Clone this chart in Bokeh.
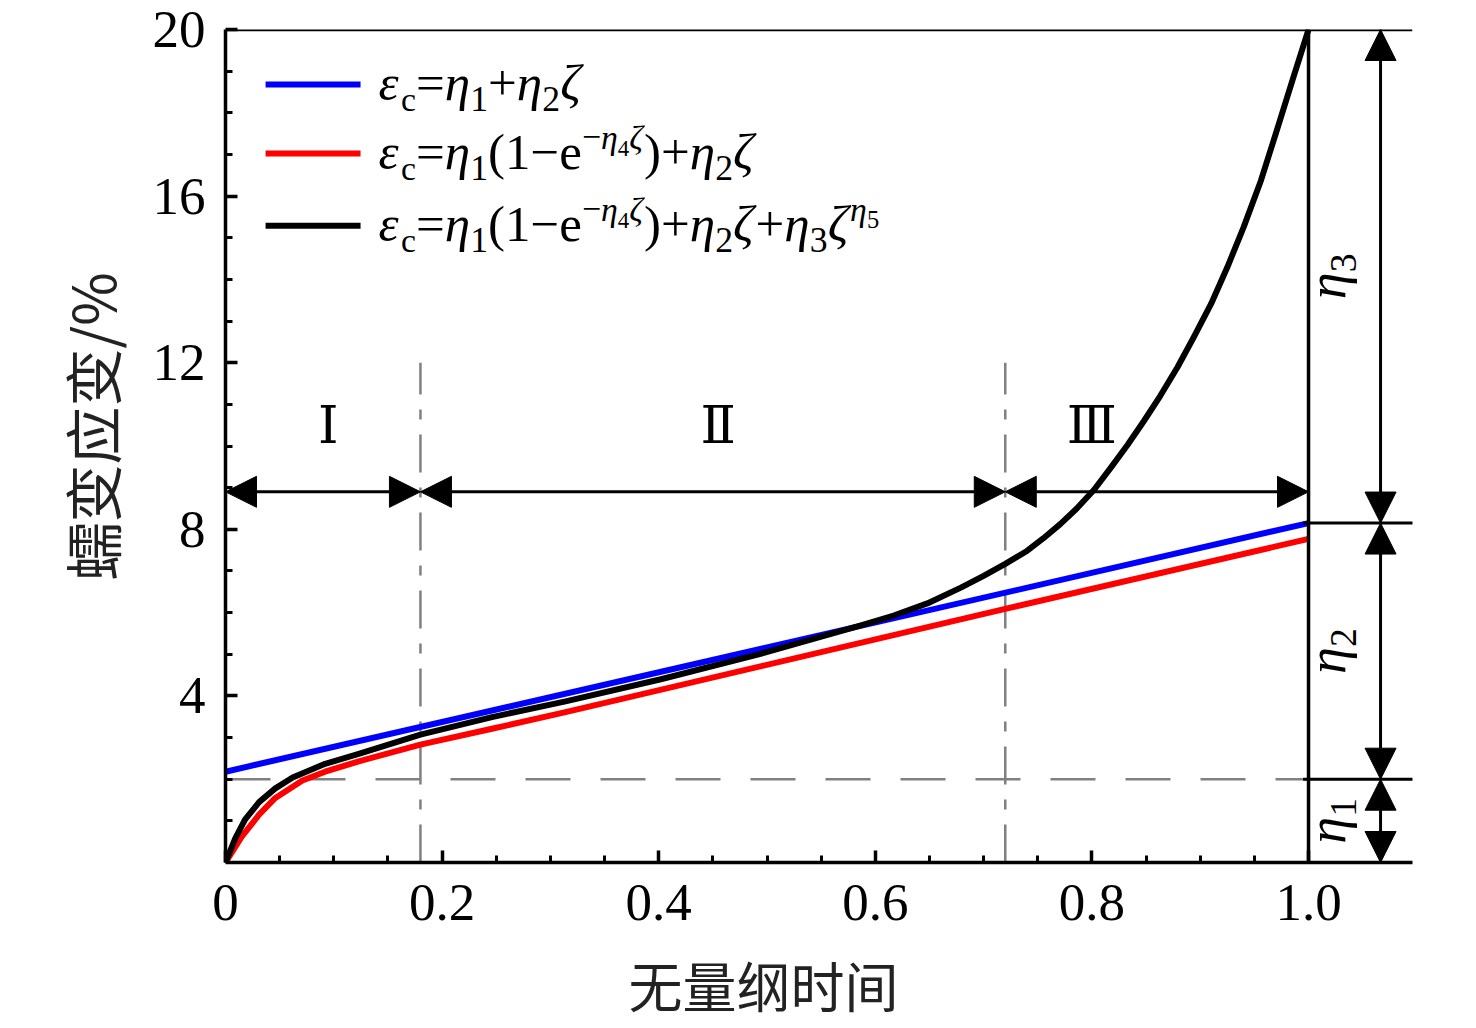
from bokeh.core.properties import value
from bokeh.embed import file_html
from bokeh.models import Arrow, FixedTicker, NormalHead, Range1d, Span, Title
from bokeh.plotting import figure
from bokeh.resources import INLINE

# ---- data ----
zeta_blue = [0.0, 1.0]
strain_blue = [2.18, 8.15]

zeta_red = [0.0, 0.015, 0.031, 0.046, 0.071, 0.092, 0.123, 0.18, 0.246, 0.314, 0.72, 1.0]
strain_red = [0.0, 0.62, 1.15, 1.55, 1.97, 2.18, 2.43, 2.83, 3.21, 3.61, 6.09, 7.77]

zeta_black = [0.0, 0.009, 0.018, 0.031, 0.046, 0.062, 0.092, 0.123, 0.18, 0.246,
              0.314, 0.402, 0.494, 0.586, 0.617, 0.648, 0.679, 0.70, 0.72, 0.74,
              0.755, 0.771, 0.786, 0.802, 0.818, 0.833, 0.848, 0.863, 0.879, 0.894,
              0.91, 0.925, 0.94, 0.956, 0.971, 0.986, 1.0]
strain_black = [0.0, 0.58, 1.03, 1.45, 1.78, 2.04, 2.37, 2.61, 3.07, 3.49,
                3.87, 4.40, 5.01, 5.69, 5.93, 6.22, 6.60, 6.88, 7.17, 7.48,
                7.78, 8.13, 8.50, 8.95, 9.50, 10.03, 10.60, 11.20, 11.89, 12.61,
                13.41, 14.29, 15.25, 16.37, 17.60, 18.85, 20.0]

stage_bounds = [0.0, 0.18, 0.72, 1.0]      # stage I / II / III limits
stage_names = ["Ⅰ", "Ⅱ", "Ⅲ"]
stage_label_x = [0.095, 0.455, 0.80]
eta_levels = [0.0, 2.0, 8.15, 20.0]        # 0, eta1, eta1+eta2, top
eta_names = ["1", "2", "3"]

x_ticks = [0.0, 0.2, 0.4, 0.6, 0.8, 1.0]
x_tick_labels = ["0", "0.2", "0.4", "0.6", "0.8", "1.0"]
y_ticks = [4, 8, 12, 16, 20]
y_tick_labels = ["4", "8", "12", "16", "20"]

SERIF = "Liberation Serif"
CJK = "Noto Sans CJK SC"
X_END = 1.096

p = figure(frame_width=1187, frame_height=833, x_range=Range1d(0, X_END), y_range=Range1d(0, 20),
           output_backend="svg", toolbar_location=None,
           min_border_left=225, min_border_top=29, min_border_right=40, min_border_bottom=120)
p.outline_line_color = None
p.grid.visible = False

# axes
p.xaxis.ticker = FixedTicker(ticks=x_ticks, minor_ticks=[0.05 * i for i in range(1, 20) if i % 4])
p.xaxis.major_label_overrides = dict(zip(x_ticks, x_tick_labels))
p.yaxis.ticker = FixedTicker(ticks=y_ticks, minor_ticks=[v for v in range(1, 20) if v % 4])
p.yaxis.major_label_overrides = dict(zip(y_ticks, y_tick_labels))
for ax in (p.xaxis[0], p.yaxis[0]):
    ax.axis_line_width = 3.5
    ax.axis_line_color = "black"
    ax.major_tick_line_width = 3.5
    ax.minor_tick_line_width = 3
    ax.major_tick_in = 12
    ax.major_tick_out = 0
    ax.minor_tick_in = 7
    ax.minor_tick_out = 0
    ax.major_label_text_font = SERIF
    ax.major_label_text_font_size = "53px"
    ax.major_label_text_color = "black"
p.xaxis.major_label_standoff = 22
p.yaxis.major_label_standoff = 20

# axis titles (placed as titles so they can be shifted like in the original)
p.add_layout(Title(text="无量纲时间", align="left", offset=403, standoff=40,
                   text_font=CJK, text_font_size="54px", text_font_style="normal",
                   text_color="#222222"), "below")
p.add_layout(Title(text="蠕变应变/%", align="left", offset=282, standoff=33,
                   text_font=CJK, text_font_size="58px", text_font_style="normal",
                   text_color="#222222"), "left")

# frame: top line across, right border at zeta = 1
p.add_layout(Span(location=20, dimension="width", line_color="black", line_width=3.5))
p.add_layout(Span(location=1.0, dimension="height", line_color="black", line_width=3.5))

# reference guides
p.line([0, 1.0], [eta_levels[1], eta_levels[1]], line_color="#808080", line_width=2.5, line_dash="45 30")
for b in stage_bounds[1:3]:
    p.line([b, b], [0, 12], line_color="#808080", line_width=2.5, line_dash="38 15 10 15")

# curves
p.line(zeta_red, strain_red, line_color="#ff0000", line_width=6, line_join="round")
p.line(zeta_blue, strain_blue, line_color="#0000ff", line_width=6)
p.line(zeta_black, strain_black, line_color="black", line_width=6, line_join="round")


def head():
    return NormalHead(size=31, fill_color="black", line_color="black", line_width=1)


# stage arrows
for a, b in zip(stage_bounds[:-1], stage_bounds[1:]):
    p.add_layout(Arrow(x_start=a, y_start=8.9, x_end=b, y_end=8.9, start=head(), end=head(),
                       line_color="black", line_width=3))
p.text(x=stage_label_x, y=[10.5] * 3, text=stage_names, text_font=value("DejaVu Serif"),
       text_font_size="52px", text_align="center", text_baseline="middle", text_color="black")

# eta dimension arrows on the right
ARX = 1.0665
for lo, hi in zip(eta_levels[:-1], eta_levels[1:]):
    p.add_layout(Arrow(x_start=ARX, y_start=hi, x_end=ARX, y_end=lo, start=head(), end=head(),
                       line_color="black", line_width=3))
for lvl in eta_levels[1:3]:
    p.line([0.995, X_END + 0.01], [lvl, lvl], line_color="black", line_width=3)

# ---- rich text (sub/superscripts) ----
W = {"ε": 0.44, "η": 0.50, "ζ": 0.44, "c": 0.444, "e": 0.444, "=": 0.564, "+": 0.564,
     "−": 0.564, "(": 0.333, ")": 0.333}
BASE_FIX = 0.36   # empirical shift of the text baseline, in em


def run_width(s, fs):
    return sum(W.get(ch, 0.5) for ch in s) * fs


def rich(x, y, runs, size, rotated=False, center=False, base=0.0):
    total = sum(run_width(t, size * sc) for t, it, sc, r in runs)
    pos = -total / 2 if center else 0.0
    for t, italic, sc, rise in runs:
        fs = size * sc
        drop = base - rise * size - BASE_FIX * fs
        if rotated:
            xo, yo, ang = drop, -pos, 1.5707963
        else:
            xo, yo, ang = pos, drop, 0.0
        p.text(x=[x], y=[y], text=[t], x_offset=xo, y_offset=yo, angle=ang,
               text_font=value(SERIF), text_font_size=f"{fs:.1f}px",
               text_font_style="italic" if italic else "normal",
               text_align="left", text_baseline="alphabetic", text_color="black")
        pos += run_width(t, fs)


I, R = True, False
SUB = -0.2
SUP = 0.42
head_runs = [("ε", I, 1, 0), ("c", R, .66, SUB), ("=", R, 1, 0), ("η", I, 1, 0), ("1", R, .7, SUB)]
exp_runs = [("(", R, 1, 0), ("1", R, 1, 0), ("−", R, 1, 0), ("e", R, 1, 0),
            ("−", R, .66, SUP), ("η", I, .66, SUP), ("4", R, .45, 0.28), ("ζ", I, .66, SUP),
            (")", R, 1, 0)]
lin_runs = [("+", R, 1, 0), ("η", I, 1, 0), ("2", R, .7, SUB), ("ζ", I, 1, 0)]
pow_runs = [("+", R, 1, 0), ("η", I, 1, 0), ("3", R, .7, SUB), ("ζ", I, 1, 0),
            ("η", I, .66, SUP), ("5", R, .48, 0.28)]
legend_items = [
    ("#0000ff", head_runs + lin_runs),
    ("#ff0000", head_runs + exp_runs + lin_runs),
    ("black", head_runs + exp_runs + lin_runs + pow_runs),
]
legend_y = [18.68, 17.02, 15.29]
for (col, runs), ly in zip(legend_items, legend_y):
    p.line([0.037, 0.1247], [ly, ly], line_color=col, line_width=6)
    rich(0.1413, ly, runs, 51, base=17)

for i, name in enumerate(eta_names):
    mid = (eta_levels[i] + eta_levels[i + 1]) / 2
    rich(1.035, mid, [("η", I, 1, 0), (name, R, .7, SUB)], 54, rotated=True, center=True)

open("out.html", "w").write(file_html(p, INLINE))
